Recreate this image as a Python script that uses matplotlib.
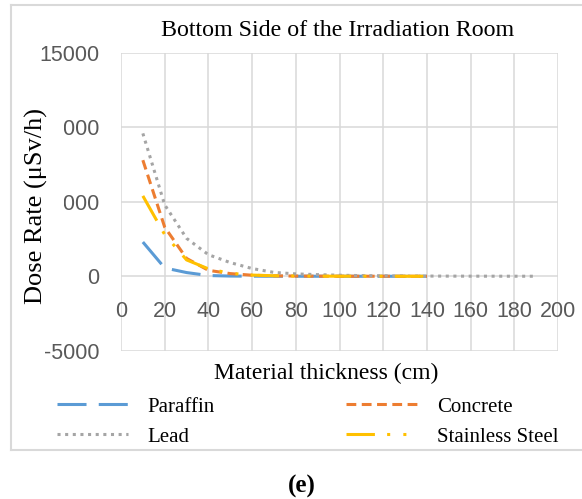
import matplotlib
matplotlib.use('Agg')
import matplotlib.pyplot as plt
from matplotlib.lines import Line2D
from matplotlib.patches import Rectangle

plt.rcParams['axes.unicode_minus'] = False

# ---- data ----
thickness = [10, 20, 30, 40, 50, 60, 70, 80, 90, 100, 110, 120, 130, 140]
lead_thickness = [10, 20, 30, 40, 50, 60, 70, 80, 90, 100, 110, 120, 130, 140,
                  150, 160, 170, 180, 190]
paraffin = [2300, 560, 250, 50, 15, 5, 2, 1, 1, 0, 0, 0, 0, 0]
concrete = [7800, 3300, 1200, 400, 180, 70, 30, 15, 8, 5, 3, 2, 1, 1]
lead = [9600, 4800, 2550, 1450, 920, 520, 260, 160, 110, 70, 45, 30, 20, 14,
        10, 7, 5, 3, 2]
steel = [5400, 2800, 1100, 500, 200, 80, 35, 15, 8, 5, 3, 2, 1, 1]

x_ticks = [0, 20, 40, 60, 80, 100, 120, 140, 160, 180, 200]
y_ticks = [-5000, 0, 5000, 10000, 15000]

title = "Bottom Side of the Irradiation Room"
xlabel = "Material thickness (cm)"
ylabel = "Dose Rate (\u03bcSv/h)"
names = ["Paraffin", "Concrete", "Lead", "Stainless Steel"]
colors = ["#5B9BD5", "#ED7D31", "#A5A5A5", "#FFC000"]

W, H = 582, 499
fig = plt.figure(figsize=(W / 100, H / 100), dpi=100)
fig.patch.set_facecolor('white')

ax = fig.add_axes([121 / W, 1 - 350.7 / H, (558 - 121) / W, (350.7 - 53) / H])
ax.set_xlim(0, 200)
ax.set_ylim(-5000, 15000)
ax.set_xticks(x_ticks)
ax.set_yticks(y_ticks)
ax.set_axisbelow(True)
ax.grid(True, color='#d9d9d9', lw=1.1)
for s in ax.spines.values():
    s.set_visible(False)
ax.spines['bottom'].set_position(('data', 0))
ax.tick_params(length=0, labelsize=15.5, labelcolor='#595959')
for lab in ax.get_xticklabels() + ax.get_yticklabels():
    lab.set_fontfamily('Liberation Sans')
ax.tick_params(axis='x', pad=17.5)
ax.tick_params(axis='y', pad=15.5)

lw = 2.2
styles = {
    "Paraffin": (0, (9.5, 4)),
    "Concrete": (0, (3.2, 1.8)),
    "Lead": (0, (1, 1.5)),
    "Stainless Steel": (0, (9.3, 4, 1, 4.3, 1, 4)),
}
series = {
    "Paraffin": (thickness, paraffin),
    "Concrete": (thickness, concrete),
    "Lead": (lead_thickness, lead),
    "Stainless Steel": (thickness, steel),
}
handles = {}
for name, c in zip(names, colors):
    xs, ys = series[name]
    ln, = ax.plot(xs, ys, color=c, lw=lw, linestyle=styles[name],
                  dash_capstyle='butt', label=name)
    handles[name] = ln

serif = 'Liberation Serif'
fig.text(338 / W, 1 - 30 / H, title, ha='center', va='center',
         family=serif, fontsize=17.3)
fig.text(326.5 / W, 1 - 373 / H, xlabel, ha='center', va='center',
         family=serif, fontsize=17)

# white block behind the y-label (hides part of tick labels as in reference)
rect = Rectangle((20 / W, 1 - 318 / H), (64 - 20) / W, (318 - 100) / H,
                 transform=fig.transFigure, facecolor='white',
                 edgecolor='none', zorder=2)
fig.add_artist(rect)
fig.text(36 / W, 1 - 206 / H, ylabel, rotation=90, ha='center', va='center',
         family=serif, fontsize=19, zorder=3)

leg = fig.legend(handles=[handles["Paraffin"], handles["Lead"],
                          handles["Concrete"], handles["Stainless Steel"]],
                 loc='upper left', bbox_to_anchor=(57 / W, 1 - 397 / H),
                 ncol=2, frameon=False, borderpad=0, borderaxespad=0,
                 handlelength=3.4, handletextpad=0.96, columnspacing=6.3,
                 labelspacing=0.5, prop={'family': serif, 'size': 15})

# chart-area border (top, left, bottom)
border_c = '#d9d9d9'
fig.add_artist(Line2D([11 / W, 1], [1 - 5 / H, 1 - 5 / H],
                      transform=fig.transFigure, color=border_c, lw=1.5))
fig.add_artist(Line2D([11 / W, 11 / W], [1 - 5 / H, 1 - 450 / H],
                      transform=fig.transFigure, color=border_c, lw=1.5))
fig.add_artist(Line2D([11 / W, 1], [1 - 450 / H, 1 - 450 / H],
                      transform=fig.transFigure, color=border_c, lw=1.5))

fig.text(302 / W, 1 - 486 / H, "(e)", ha='center', va='center',
         family=serif, fontsize=18, fontweight='bold')

fig.savefig('out.png', dpi=100)
